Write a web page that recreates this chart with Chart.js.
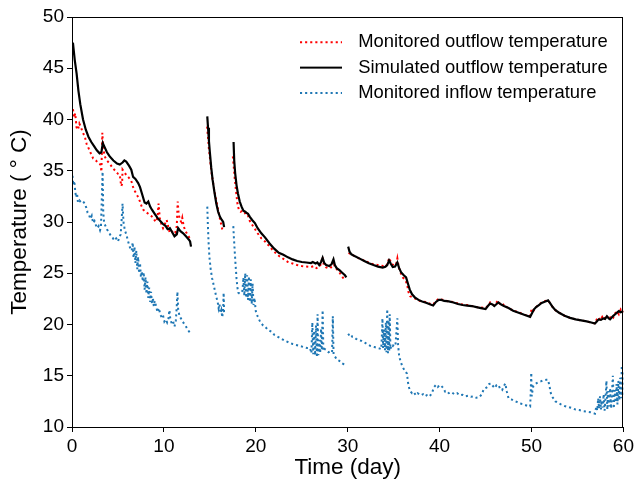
<!DOCTYPE html>
<html>
<head>
<meta charset="utf-8">
<script src="https://cdn.jsdelivr.net/npm/chart.js@4.4.1/dist/chart.umd.min.js"></script>
<style>
  html, body { margin: 0; padding: 0; background: #fff; }
  canvas { display: block; }
</style>
</head>
<body>
<canvas id="c" width="637" height="487"></canvas>
<script>
// ---------------- data ----------------
const seriesNames = ['Monitored outflow temperature', 'Simulated outflow temperature', 'Monitored inflow temperature'];
const xTickValues = [0, 10, 20, 30, 40, 50, 60];
const yTickValues = [10, 15, 20, 25, 30, 35, 40, 45, 50];

// Simulated outflow (null = gap between records)
const simDays = [
  0.1,0.3,0.5,0.7,0.9,1.2,1.5,1.8,2.1,2.4,2.7,3.0,3.2,3.35,3.5,3.8,4.1,4.5,4.9,5.2,5.5,5.7,5.9,6.2,6.45,6.65,6.9,7.2,7.4,7.6,7.9,8.1,8.3,8.5,8.7,9.0,9.3,9.6,9.9,10.2,10.4,10.65,10.9,11.15,11.4,11.55,11.8,12.1,12.4,12.7,12.85,12.95,
  13.8,
  14.72,14.8,14.9,15.0,15.15,15.3,15.5,15.7,15.9,16.1,16.3,16.45,16.55,
  17.0,
  17.58,17.65,17.75,17.9,18.05,18.25,18.45,18.65,18.85,19.0,19.15,19.35,19.6,19.9,20.2,20.6,21.0,21.5,22.0,22.5,23.0,23.5,24.0,24.5,25.0,25.5,26.0,26.2,26.5,26.7,26.9,27.1,27.27,27.45,27.65,28.0,28.25,28.45,28.6,28.8,29.1,29.4,29.7,29.85,
  29.95,
  30.05,30.2,30.4,30.8,31.25,31.8,32.3,32.8,33.3,33.8,34.1,34.3,34.5,34.7,34.9,35.15,35.4,35.6,35.8,36.1,36.35,36.55,36.75,37.0,37.3,37.7,38.1,38.6,39.0,39.3,39.6,39.9,40.2,40.5,41.0,41.5,42.0,42.5,43.0,43.5,44.0,44.5,45.0,45.25,45.5,45.75,45.95,46.2,46.4,46.7,47.0,47.5,48.0,48.6,49.2,49.85,50.05,50.25,50.5,50.8,51.1,51.5,51.8,52.0,52.3,52.6,53.0,53.6,54.2,54.8,55.4,56.0,56.5,56.9,57.1,57.3,57.55,57.8,58.0,58.2,58.4,58.55,58.75,58.9,59.1,59.3,59.5,59.7,59.85,60.0
];
const simTemps = [
  47.5,45.8,44.5,42.8,41.5,40.0,39.0,38.3,37.8,37.4,37.0,36.7,36.8,37.7,37.4,36.8,36.4,36.0,35.7,35.6,35.8,36.0,35.9,35.5,35.1,34.4,34.2,33.8,33.4,32.8,31.9,31.8,32.0,31.5,31.2,30.8,30.4,30.1,29.8,29.6,29.3,29.4,29.0,28.6,28.8,29.4,29.1,28.9,28.6,28.3,28.1,27.6,
  null,
  40.3,39.2,37.9,36.8,35.3,34.1,32.9,31.8,31.0,30.5,30.2,30.0,29.5,
  null,
  37.8,36.0,34.8,33.6,32.8,32.0,31.5,31.1,31.0,30.9,30.8,30.5,30.2,29.9,29.4,28.9,28.5,27.9,27.4,27.0,26.8,26.55,26.35,26.2,26.1,26.05,26.0,26.1,25.95,26.05,25.8,26.1,26.5,26.0,25.8,25.7,25.9,26.35,25.8,25.5,25.3,25.05,24.8,24.6,
  null,
  27.6,27.1,26.85,26.65,26.45,26.2,25.97,25.8,25.65,25.55,25.64,25.8,26.25,25.9,25.6,25.65,26.05,25.5,25.1,24.8,24.6,24.0,23.4,22.95,22.65,22.4,22.25,22.1,21.95,21.85,22.2,22.4,22.4,22.3,22.25,22.15,22.0,21.9,21.85,21.8,21.7,21.6,21.5,21.8,22.05,21.95,21.8,22.0,22.15,21.95,21.8,21.6,21.35,21.15,20.95,20.75,21.1,21.45,21.7,21.9,22.1,22.25,22.35,22.1,21.7,21.4,21.15,20.85,20.65,20.5,20.4,20.3,20.2,20.1,20.3,20.5,20.45,20.6,20.55,20.8,20.6,20.5,20.7,20.85,21.0,21.15,21.3,21.2,21.25,21.2
];

// Monitored outflow
const outDays = [
  0.1,0.25,0.35,0.5,0.65,0.8,0.95,1.15,1.4,1.6,1.8,2.0,2.3,2.6,2.9,3.1,3.2,3.3,3.4,3.55,3.8,4.1,4.4,4.7,5.0,5.2,5.35,5.45,5.5,5.65,5.9,6.2,6.45,6.65,6.85,7.1,7.35,7.55,7.75,8.0,8.3,8.6,8.85,9.1,9.3,9.42,9.55,9.75,9.9,10.1,10.3,10.45,10.65,10.85,11.05,11.25,11.4,11.5,11.6,11.75,11.9,12.0,12.15,12.35,12.55,12.75,12.9,
  13.8,
  14.7,14.8,14.9,15.0,15.15,15.3,15.5,15.7,15.9,16.05,16.2,16.35,16.45,
  17.0,
  17.5,17.6,17.7,17.85,18.0,18.15,18.35,18.55,18.75,18.95,19.15,19.35,19.55,19.85,20.2,20.6,21.0,21.5,22.0,22.5,23.0,23.5,24.0,24.5,25.0,25.5,26.0,26.3,26.6,26.9,27.1,27.25,27.4,27.6,27.85,28.1,28.3,28.45,28.6,28.8,29.05,29.3,29.5,29.65,
  29.9,
  30.1,30.3,30.6,31.0,31.5,32.0,32.5,33.0,33.5,33.9,34.2,34.4,34.55,34.7,34.9,35.1,35.3,35.4,35.55,35.75,36.0,36.25,36.45,36.6,36.8,37.05,37.3,37.6,38.0,38.5,39.0,39.3,39.6,39.9,40.2,40.5,41.0,41.5,42.0,42.5,43.0,43.5,44.0,44.5,45.0,45.3,45.5,45.75,45.95,46.15,46.35,46.55,46.8,47.05,47.3,47.7,48.2,48.7,49.2,49.8,49.95,50.1,50.25,50.5,50.8,51.1,51.5,51.8,52.0,52.3,52.6,53.0,53.6,54.2,54.8,55.4,56.0,56.5,56.9,57.1,57.3,57.5,57.7,57.9,58.1,58.3,58.5,58.7,58.9,59.1,59.3,59.5,59.7,59.85,60.0
];
const outTemps = [
  41.0,40.2,40.6,39.2,39.0,39.6,39.3,38.8,38.3,37.6,37.2,36.8,36.2,36.0,35.7,35.6,34.9,38.7,37.2,36.4,36.0,35.7,35.3,35.0,34.7,34.6,33.5,33.7,35.1,34.9,34.6,34.3,34.0,33.4,33.0,32.6,32.1,31.6,31.2,31.0,30.8,30.6,30.4,30.0,30.4,31.8,30.4,29.7,29.4,29.8,30.2,29.6,28.9,29.0,29.2,29.0,29.6,32.0,30.8,30.2,30.0,30.4,29.6,29.1,28.8,28.5,28.2,
  null,
  39.3,38.2,37.1,36.3,35.0,34.1,33.0,32.1,31.2,30.5,29.9,29.3,29.0,
  null,
  36.4,35.4,34.3,33.0,31.8,31.2,31.0,31.1,31.0,30.6,30.6,30.1,29.8,29.4,28.9,28.4,28.1,27.6,27.1,26.7,26.4,26.1,25.95,25.8,25.7,25.65,25.6,25.7,25.5,25.65,25.9,26.6,25.8,25.6,25.5,25.5,25.7,26.15,25.6,25.4,25.15,24.8,24.55,24.35,
  null,
  27.0,26.85,26.75,26.55,26.35,26.15,25.95,25.85,25.75,25.7,25.7,26.2,26.5,26.0,25.85,25.75,26.0,26.45,25.6,25.05,24.6,24.3,24.0,23.2,22.75,22.65,22.55,22.4,22.25,22.2,22.0,21.95,22.3,22.5,22.45,22.35,22.25,22.2,22.05,21.95,21.9,21.8,21.7,21.65,21.6,21.85,22.15,22.0,21.85,22.1,22.35,22.0,21.85,22.0,21.7,21.5,21.3,21.15,20.95,20.8,21.3,21.6,21.4,21.7,21.95,22.15,22.3,22.35,22.1,21.7,21.4,21.15,20.85,20.65,20.5,20.4,20.3,20.2,20.1,20.5,20.7,20.4,20.75,20.5,20.9,20.6,20.55,20.9,20.7,21.1,21.3,21.0,21.45,21.2,21.35
];

// Monitored inflow
const inDays = [
  0.05,0.15,0.25,0.35,0.45,0.55,0.65,0.8,1.0,1.2,1.4,1.55,1.7,1.85,2.0,2.15,2.3,2.45,2.6,2.75,2.9,3.05,3.15,3.25,3.33,3.4,3.5,3.65,3.8,4.0,4.2,4.4,4.6,4.8,5.0,5.15,5.3,5.42,5.5,5.6,5.75,5.9,6.05,6.2,6.35,6.5,6.6,6.7,6.8,6.9,7.0,7.1,7.2,7.3,7.4,7.5,7.6,7.7,7.8,7.9,8.0,8.1,8.2,8.3,8.4,8.5,8.6,8.7,8.8,8.9,9.0,9.15,9.3,9.45,9.6,9.75,9.9,10.05,10.2,10.35,10.5,10.6,10.7,10.85,11.0,11.15,11.3,11.4,11.47,11.55,11.7,11.85,12.0,12.2,12.4,12.6,12.75,12.9,
  13.8,
  14.72,14.78,14.85,14.95,15.1,15.25,15.4,15.55,15.7,15.85,15.95,16.05,16.15,16.25,16.35,16.45,16.5,16.55,
  17.0,
  17.55,17.62,17.7,17.8,17.9,18.0,18.1,18.25,18.4,18.55,18.65,18.75,18.85,18.95,19.05,19.15,19.25,19.35,19.45,19.55,19.65,19.75,19.85,20.0,20.2,20.4,20.6,20.8,21.0,21.3,21.7,22.0,22.4,22.8,23.2,23.6,24.0,24.4,24.8,25.2,25.6,25.9,26.05,26.15,26.25,26.35,26.45,26.55,26.65,26.72,26.8,26.9,27.0,27.1,27.18,27.27,27.35,27.5,27.7,27.9,28.1,28.3,28.38,28.46,28.6,28.8,29.0,29.2,29.4,29.6,29.8,
  29.9,
  30.05,30.2,30.35,30.5,30.7,30.9,31.1,31.3,31.5,31.7,31.9,32.1,32.3,32.5,32.7,32.9,33.1,33.3,33.5,33.65,33.72,33.78,33.85,33.95,34.05,34.15,34.22,34.3,34.38,34.45,34.52,34.57,34.65,34.75,34.9,35.05,35.2,35.3,35.4,35.48,35.6,35.75,35.95,36.2,36.45,36.55,36.65,36.8,37.0,37.2,37.4,37.6,37.8,38.0,38.2,38.4,38.6,38.8,39.0,39.2,39.4,39.6,39.8,40.0,40.2,40.4,40.6,40.8,41.0,41.3,41.6,41.9,42.2,42.5,42.8,43.1,43.4,43.7,44.0,44.3,44.6,44.8,45.0,45.2,45.4,45.6,45.8,46.0,46.2,46.4,46.6,46.8,47.0,47.15,47.3,47.5,47.8,48.1,48.4,48.7,49.0,49.3,49.6,49.85,49.92,49.97,50.02,50.1,50.2,50.4,50.6,50.8,51.0,51.3,51.6,51.8,51.95,52.1,52.3,52.6,52.9,53.2,53.6,54.0,54.4,54.8,55.2,55.6,56.0,56.4,56.7,56.9,57.05,57.15,57.25,57.35,57.45,57.55,57.65,57.75,57.85,57.95,58.05,58.15,58.25,58.35,58.45,58.55,58.65,58.75,58.85,58.95,59.05,59.15,59.25,59.35,59.45,59.55,59.65,59.75,59.82,59.9,60.0
];
const inTemps = [
  34.5,33.6,34.0,33.0,32.4,32.8,31.9,32.1,31.9,32.0,31.8,31.4,30.9,30.7,30.3,30.6,29.9,30.1,29.7,29.4,29.6,29.2,29.5,32.5,34.9,31.0,29.9,29.6,29.3,29.0,28.7,28.5,28.2,28.4,28.1,28.5,28.8,30.5,31.8,30.0,29.2,28.8,28.3,27.8,27.4,27.2,28.0,26.5,27.6,26.0,27.2,25.4,26.6,25.0,26.0,24.6,25.2,24.2,25.1,23.4,24.6,23.0,24.2,22.6,23.6,22.2,23.2,22.0,22.6,21.8,22.3,21.8,21.2,21.6,21.0,20.7,20.9,20.3,20.5,20.2,20.6,21.4,20.5,20.1,20.3,19.8,20.4,21.8,23.2,21.5,20.8,20.6,20.3,20.1,19.8,19.5,19.3,19.0,
  null,
  31.5,29.8,28.2,26.6,25.3,24.5,23.9,23.3,22.7,22.2,21.6,22.0,21.1,21.4,20.7,21.5,23.1,21.0,
  null,
  29.6,28.4,27.2,25.8,24.5,23.6,23.1,23.0,23.1,23.3,24.6,22.8,25.0,22.6,24.8,22.4,24.7,22.2,24.4,22.0,24.0,21.9,22.6,21.3,20.8,20.4,20.1,19.9,19.8,19.5,19.3,19.0,18.8,18.6,18.4,18.25,18.1,18.0,17.9,17.8,17.7,17.7,17.2,20.2,17.1,19.4,17.0,19.9,16.8,21.0,17.0,18.5,17.2,19.6,17.5,21.4,17.4,17.6,17.5,17.3,17.4,17.3,20.8,17.1,16.9,16.6,16.5,16.4,16.2,16.1,16.0,
  null,
  19.1,18.9,19.0,18.8,18.75,18.6,18.55,18.45,18.4,18.3,18.2,18.1,18.0,17.9,17.85,17.8,17.75,17.7,17.65,17.6,19.0,20.6,17.7,19.5,17.5,20.2,17.3,21.5,17.2,20.4,17.4,21.0,17.6,18.0,17.9,18.1,18.0,19.3,20.6,18.0,16.9,16.4,15.9,15.5,15.2,14.4,13.9,13.5,13.3,13.4,13.1,13.3,13.2,13.1,13.2,13.0,13.1,12.95,13.1,13.4,13.9,14.1,13.9,14.1,14.0,13.8,13.45,13.5,13.3,13.4,13.2,13.3,13.1,13.15,13.0,13.05,12.95,13.0,12.85,12.9,13.2,13.7,13.8,13.9,14.2,14.25,14.0,13.8,14.1,14.1,13.7,13.6,14.0,14.25,13.5,12.8,12.7,12.55,12.45,12.3,12.25,12.15,12.05,12.0,13.5,15.3,13.0,13.5,14.0,14.2,14.3,14.4,14.45,14.55,14.6,14.6,14.0,13.3,12.9,12.5,12.35,12.2,12.05,11.95,11.85,11.7,11.65,11.55,11.5,11.45,11.35,11.3,12.0,11.6,12.8,11.8,13.0,11.7,12.6,11.9,13.2,11.6,12.8,14.5,11.7,13.5,12.0,13.8,11.8,13.2,15.0,11.8,13.6,12.4,14.2,12.2,14.5,12.6,14.8,12.8,16.0,13.0,15.5
];

// ---------------- chart ----------------
const FONT = "'Liberation Sans', Arial, Helvetica, sans-serif";
Chart.defaults.font.family = FONT;
Chart.defaults.color = '#000';

const pts = (xs, ys) => xs.map((x, i) => ({ x: x, y: (ys[i] === undefined ? null : ys[i]) }));

const colors = ['#ff0000', '#000000', '#1f77b4'];
const dashes = [[2.1, 3.0], [], [2.1, 3.0]];

function legendSample(color, dash) {
  const c = document.createElement('canvas');
  c.width = 49; c.height = 6;
  const g = c.getContext('2d');
  g.strokeStyle = color; g.lineWidth = 2; g.setLineDash(dash);
  g.beginPath(); g.moveTo(0, 3); g.lineTo(42, 3); g.stroke();
  return c;
}
const samples = colors.map((c, i) => legendSample(c, dashes[i]));

const framePlugin = {
  id: 'frame',
  afterLayout(chart) {
    const lg = chart.legend;
    if (lg) {
      lg.left = 293; lg.right = lg.left + lg.width;
      lg.top = 26; lg.bottom = chart.chartArea.bottom;
    }
  },
  afterDraw(chart) {
    const a = chart.chartArea, ctx = chart.ctx;
    ctx.save();
    ctx.strokeStyle = '#000'; ctx.lineWidth = 1;
    ctx.strokeRect(Math.round(a.left) + 0.5, Math.round(a.top) + 0.5, Math.round(a.right - a.left) - 1, Math.round(a.bottom - a.top));
    ctx.restore();
  }
};

new Chart(document.getElementById('c'), {
  type: 'line',
  data: {
    datasets: [
      { label: seriesNames[0], data: pts(outDays, outTemps), borderColor: colors[0], borderWidth: 2, borderDash: dashes[0], pointRadius: 0, fill: false, tension: 0, spanGaps: false, order: 3 },
      { label: seriesNames[1], data: pts(simDays, simTemps), borderColor: colors[1], borderWidth: 2.2, borderDash: dashes[1], pointRadius: 0, fill: false, tension: 0, spanGaps: false, order: 2 },
      { label: seriesNames[2], data: pts(inDays, inTemps), borderColor: colors[2], borderWidth: 2, borderDash: dashes[2], pointRadius: 0, fill: false, tension: 0, spanGaps: false, order: 1 }
    ]
  },
  options: {
    responsive: false,
    animation: false,
    devicePixelRatio: 1,
    layout: { padding: { left: 0, right: 12, top: 17, bottom: 0 } },
    plugins: {
      tooltip: { enabled: false },
      legend: {
        position: 'chartArea',
        align: 'start',
        labels: {
          usePointStyle: true,
          pointStyleWidth: 49,
          boxHeight: 16,
          padding: 7,
          color: '#000',
          font: { size: 18.4, family: FONT },
          sort: (a, b) => a.datasetIndex - b.datasetIndex,
          generateLabels(chart) {
            const items = Chart.defaults.plugins.legend.labels.generateLabels(chart);
            items.forEach(it => { it.pointStyle = samples[it.datasetIndex]; });
            return items;
          }
        }
      }
    },
    scales: {
      x: {
        type: 'linear', min: 0, max: 60,
        afterBuildTicks(s) { s.ticks = xTickValues.map(v => ({ value: v })); },
        ticks: { color: '#000', font: { size: 19, family: FONT }, padding: 3, maxRotation: 0 },
        grid: { display: true, drawOnChartArea: false, drawTicks: true, tickLength: 5, color: '#000', tickColor: '#000' },
        border: { display: true, color: '#000', width: 1 },
        title: { display: true, text: 'Time (day)', color: '#000', font: { size: 22.5, family: FONT }, padding: { top: 0, bottom: 6 } },
        afterFit(s) { s.height = 60; }
      },
      y: {
        type: 'linear', min: 10, max: 50,
        afterBuildTicks(s) { s.ticks = yTickValues.map(v => ({ value: v })); },
        ticks: { color: '#000', font: { size: 19, family: FONT }, padding: 3 },
        grid: { display: true, drawOnChartArea: false, drawTicks: true, tickLength: 5, color: '#000', tickColor: '#000' },
        border: { display: true, color: '#000', width: 1 },
        title: { display: true, text: 'Temperature ( \u00B0 C)', color: '#000', font: { size: 22.5, family: FONT }, padding: { top: 6, bottom: 0 } },
        afterFit(s) { s.width = 72; }
      }
    }
  },
  plugins: [framePlugin]
});
</script>
</body>
</html>
